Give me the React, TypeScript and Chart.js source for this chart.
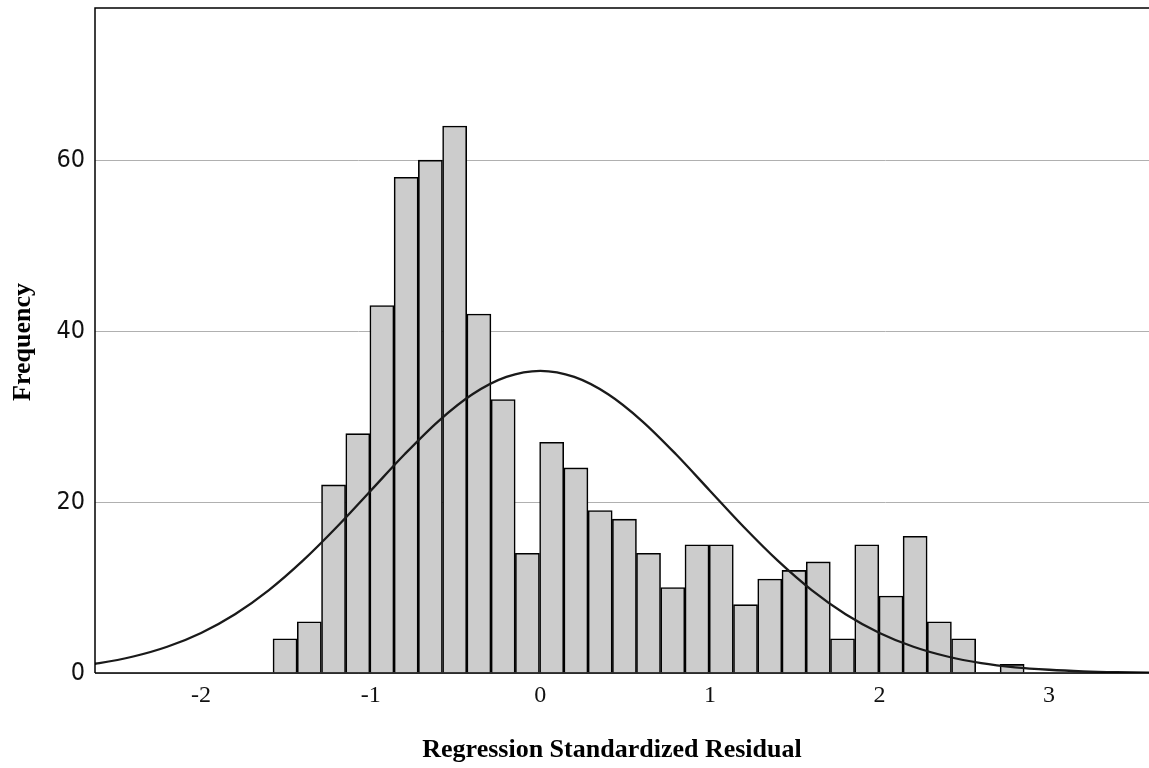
import React, { useEffect, useRef } from "react";
import { Chart, registerables } from "chart.js";

Chart.register(...registerables);

// Histogram bins (centers of each bin, standardized residual units)
const binCenters = [
  -1.505, -1.362, -1.219, -1.076, -0.934, -0.791, -0.648, -0.505, -0.362, -0.219,
  -0.076, 0.067, 0.21, 0.353, 0.496, 0.638, 0.781, 0.924, 1.067, 1.21,
  1.353, 1.496, 1.639, 1.782, 1.925, 2.068, 2.21, 2.353, 2.496, 2.639, 2.782,
];

// Frequencies per bin
const frequencies = [
  4, 6, 22, 28, 43, 58, 60, 64, 42, 32,
  14, 27, 24, 19, 18, 14, 10, 15, 15, 8,
  11, 12, 13, 4, 15, 9, 16, 6, 4, 0, 1,
];

// Normal curve
const curveX = [
  -2.8, -2.6, -2.4, -2.2, -2.0, -1.8, -1.6, -1.4, -1.2, -1.0, -0.8, -0.6, -0.4, -0.2,
  0, 0.2, 0.4, 0.6, 0.8, 1.0, 1.2, 1.4, 1.6, 1.8, 2.0, 2.2, 2.4, 2.6, 2.8, 3.0, 3.2,
  3.4, 3.6, 3.8,
];
const curveY = [
  0.67, 1.16, 1.93, 3.07, 4.69, 6.88, 9.7, 13.14, 17.08, 21.33, 25.59, 29.48, 32.61, 34.64,
  35.35, 34.64, 32.61, 29.48, 25.59, 21.33, 17.08, 13.14, 9.7, 6.88, 4.69, 3.07, 1.93,
  1.16, 0.67, 0.38, 0.2, 0.1, 0.05, 0.02,
];

const xTickValues = [-2, -1, 0, 1, 2, 3];
const yTickValues = [0, 20, 40, 60];

const xTitle = "Regression Standardized Residual";
const yTitle = "Frequency";

const framePlugin = {
  id: "frameAndTitles",
  afterDraw(chart: any) {
    const { ctx, chartArea } = chart;
    const { left, top, right, bottom } = chartArea;
    ctx.save();
    ctx.strokeStyle = "#000";
    ctx.lineWidth = 1.5;
    ctx.beginPath();
    ctx.moveTo(left, bottom);
    ctx.lineTo(left, top);
    ctx.lineTo(right, top);
    ctx.moveTo(left, bottom);
    ctx.lineTo(right, bottom);
    ctx.stroke();

    ctx.fillStyle = "#000";
    ctx.font = 'bold 26px "Liberation Serif", "Times New Roman", serif';
    ctx.textAlign = "center";
    ctx.textBaseline = "alphabetic";
    ctx.fillText(xTitle, 612, 757);

    ctx.translate(30, 342);
    ctx.rotate(-Math.PI / 2);
    ctx.fillText(yTitle, 0, 0);
    ctx.restore();
  },
};

export default function App() {
  const canvasRef = useRef<HTMLCanvasElement | null>(null);

  useEffect(() => {
    if (!canvasRef.current) return;
    const chart = new Chart(canvasRef.current, {
      type: "bar",
      data: {
        datasets: [
          {
            type: "line",
            label: "Normal",
            data: curveX.map((x, i) => ({ x, y: curveY[i] })),
            borderColor: "#1a1a1a",
            borderWidth: 2.3,
            pointRadius: 0,
            cubicInterpolationMode: "monotone",
            fill: false,
            order: 0,
          } as any,
          {
            type: "bar",
            label: "Frequency",
            data: binCenters.map((x, i) => ({ x, y: frequencies[i] })),
            backgroundColor: "#cccccc",
            borderColor: "#000",
            borderWidth: 1.6,
            barPercentage: 1,
            categoryPercentage: 1,
            order: 1,
          } as any,
        ],
      },
      options: {
        responsive: false,
        animation: false,
        devicePixelRatio: 1,
        layout: { padding: { left: 0, top: 8, right: 0, bottom: 0 } },
        plugins: {
          legend: { display: false },
          tooltip: { enabled: false },
        },
        scales: {
          x: {
            type: "linear",
            min: -2.6256,
            max: 3.589,
            offset: false,
            grid: { display: false, drawTicks: false },
            border: { display: false },
            afterFit: (s: any) => {
              s.height = 95;
              s.paddingLeft = 0;
              s.paddingRight = 0;
            },
            afterBuildTicks: (s: any) => {
              s.ticks = xTickValues.map((v) => ({ value: v }));
            },
            ticks: {
              includeBounds: false,
              padding: 8,
              color: "#111",
              font: { family: '"Liberation Serif", "Times New Roman", serif', size: 24 },
              callback: (v: any) => String(v),
            },
          },
          y: {
            type: "linear",
            min: 0,
            max: 77.8,
            grid: { color: "#b0b0b0", lineWidth: 1, drawTicks: false },
            border: { display: false },
            afterFit: (s: any) => {
              s.width = 95;
              s.paddingTop = 0;
              s.paddingBottom = 0;
            },
            afterBuildTicks: (s: any) => {
              s.ticks = yTickValues.map((v) => ({ value: v }));
            },
            ticks: {
              includeBounds: false,
              padding: 10,
              color: "#111",
              font: {
                family: '"Liberation Sans Narrow", "DejaVu Sans Condensed", sans-serif',
                size: 25,
              },
              callback: (v: any) => String(v),
            },
          },
        },
      } as any,
      plugins: [framePlugin],
    });
    return () => chart.destroy();
  }, []);

  return (
    <div style={{ position: "absolute", left: 0, top: 0, width: 1149, height: 768, background: "#fff" }}>
      <canvas ref={canvasRef} width={1149} height={768} style={{ display: "block" }} />
    </div>
  );
}
